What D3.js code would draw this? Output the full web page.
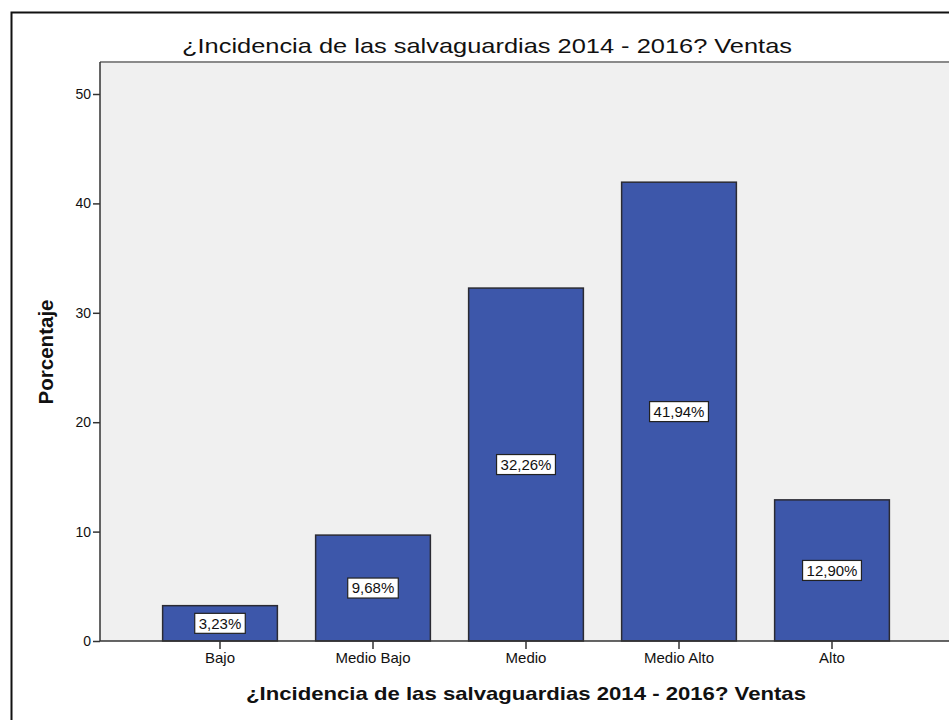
<!DOCTYPE html>
<html lang="es">
<head>
<meta charset="UTF-8">
<title>Incidencia de las salvaguardias - Ventas</title>
<script src="https://cdn.jsdelivr.net/npm/d3@7"></script>
<style>
  body { margin: 0; background: #fff; }
  text { font-family: "Liberation Sans", Arial, sans-serif; fill: #111; }
</style>
</head>
<body>
<div id="chart"></div>
<script>
// datos
var categorias = ["Bajo", "Medio Bajo", "Medio", "Medio Alto", "Alto"];
var porcentajes = [3.23, 9.68, 32.26, 41.94, 12.90];
var etiquetas = ["3,23%", "9,68%", "32,26%", "41,94%", "12,90%"];
var ticksY = [0, 10, 20, 30, 40, 50];
var titulo = "¿Incidencia de las salvaguardias 2014 - 2016? Ventas";

var width = 949, height = 720;
var plot = { left: 100, right: 952, top: 62, bottom: 641 };

var svg = d3.select("#chart").append("svg")
    .attr("width", width)
    .attr("height", height);

// marco exterior
svg.append("rect")
    .attr("x", 11.5).attr("y", 12.5)
    .attr("width", 950).attr("height", 720)
    .attr("fill", "#fff")
    .attr("stroke", "#111").attr("stroke-width", 2);

// fondo del área de trazado
svg.append("rect")
    .attr("x", plot.left).attr("y", plot.top)
    .attr("width", plot.right - plot.left)
    .attr("height", plot.bottom - plot.top)
    .attr("fill", "#f0f0f0");
svg.append("line")
    .attr("x1", plot.left).attr("x2", plot.right)
    .attr("y1", plot.top).attr("y2", plot.top)
    .attr("stroke", "#8a8a8a").attr("stroke-width", 2);

var x = d3.scaleBand()
    .domain(categorias)
    .range([plot.left + 43.5, plot.right - 43.5])
    .paddingInner(0.25)
    .paddingOuter(0.125);

var y = d3.scaleLinear()
    .domain([0, 50])
    .range([plot.bottom, plot.bottom - 547]);

// barras
svg.selectAll("rect.bar")
    .data(porcentajes)
    .enter().append("rect")
    .attr("class", "bar")
    .attr("x", function(d, i) { return x(categorias[i]); })
    .attr("y", function(d) { return y(d); })
    .attr("width", x.bandwidth())
    .attr("height", function(d) { return y(0) - y(d); })
    .attr("fill", "#3d57aa")
    .attr("stroke", "#2b2b33")
    .attr("stroke-width", 1.5);

// etiquetas de las barras
var lab = svg.selectAll("g.lab")
    .data(porcentajes)
    .enter().append("g")
    .attr("class", "lab")
    .attr("transform", function(d, i) {
        return "translate(" + (x(categorias[i]) + x.bandwidth() / 2) + "," + y(d / 2) + ")";
    });
lab.append("text")
    .attr("text-anchor", "middle")
    .attr("dy", "0.36em")
    .style("font-size", "15px")
    .text(function(d, i) { return etiquetas[i]; })
    .each(function() {
        var b = this.getBBox();
        d3.select(this.parentNode).insert("rect", "text")
            .attr("x", b.x - 4).attr("y", -10)
            .attr("width", b.width + 8).attr("height", 20)
            .attr("fill", "#fff")
            .attr("stroke", "#222").attr("stroke-width", 1.2);
    });

// eje Y
var ejeY = svg.append("g")
    .attr("transform", "translate(" + plot.left + ",0)")
    .call(d3.axisLeft(y).tickValues(ticksY).tickSize(7).tickPadding(2));
ejeY.select(".domain").attr("stroke", "#333").attr("stroke-width", 1.5).attr("d", "M0," + plot.top + "V" + plot.bottom);
ejeY.selectAll(".tick line").attr("stroke", "#333").attr("stroke-width", 1.5);
ejeY.selectAll(".tick text").style("font-size", "14px").style("font-family", "'Liberation Sans', Arial, sans-serif").attr("fill", "#222");

// eje X
var ejeX = svg.append("g")
    .attr("transform", "translate(0," + plot.bottom + ")")
    .call(d3.axisBottom(x).tickSize(8).tickPadding(3));
ejeX.select(".domain").attr("stroke", "#333").attr("stroke-width", 1.5).attr("d", "M" + plot.left + ",0H" + plot.right);
ejeX.selectAll(".tick line").attr("stroke", "#333").attr("stroke-width", 1.5);
ejeX.selectAll(".tick text").style("font-size", "15px").style("font-family", "'Liberation Sans', Arial, sans-serif").attr("fill", "#222");

// títulos
svg.append("text")
    .attr("x", 487).attr("y", 53)
    .attr("text-anchor", "middle")
    .attr("textLength", 610)
    .attr("lengthAdjust", "spacingAndGlyphs")
    .style("font-size", "21px")
    .text(titulo);

svg.append("text")
    .attr("x", 526).attr("y", 700)
    .attr("text-anchor", "middle")
    .attr("textLength", 560)
    .attr("lengthAdjust", "spacingAndGlyphs")
    .style("font-size", "19px")
    .style("font-weight", "bold")
    .text(titulo);

svg.append("text")
    .attr("transform", "translate(53,352) rotate(-90)")
    .attr("text-anchor", "middle")
    .attr("textLength", 105)
    .attr("lengthAdjust", "spacingAndGlyphs")
    .style("font-size", "20px")
    .style("font-weight", "bold")
    .text("Porcentaje");
</script>
</body>
</html>
